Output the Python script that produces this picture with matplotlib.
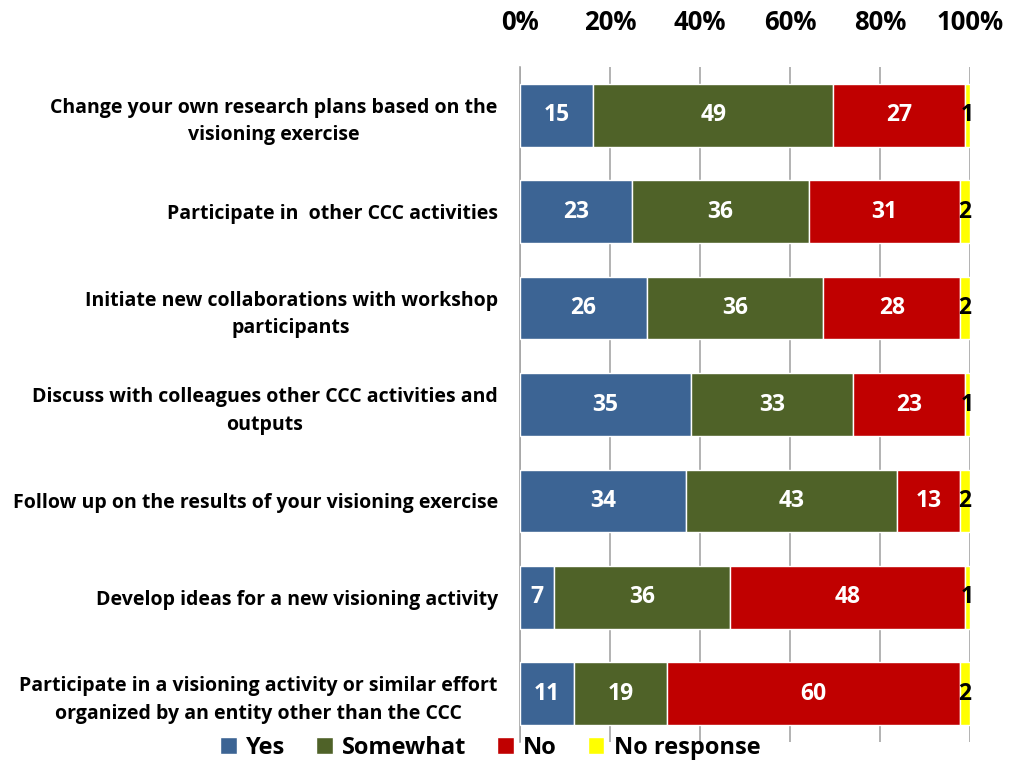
import numpy as np
import matplotlib
matplotlib.use("Agg")
import matplotlib.pyplot as plt
import matplotlib.ticker as mticker

BLUE   = "#3C6494"
GREEN  = "#4F6228"
RED    = "#C00000"
YELLOW = "#FFFF00"
GRID   = "#A6A6A6"

categories = [
    "Change your own research plans based on the\nvisioning exercise",
    "Participate in  other CCC activities",
    "Initiate new collaborations with workshop\nparticipants",
    "Discuss with colleagues other CCC activities and\noutputs",
    "Follow up on the results of your visioning exercise",
    "Develop ideas for a new visioning activity",
    "Participate in a visioning activity or similar effort\norganized by an entity other than the CCC",
]
yes         = [15, 23, 26, 35, 34, 7, 11]
somewhat    = [49, 36, 36, 33, 43, 36, 19]
no          = [27, 31, 28, 23, 13, 48, 60]
no_response = [1, 2, 2, 1, 2, 1, 2]

series = [
    ("Yes", yes, BLUE, "white"),
    ("Somewhat", somewhat, GREEN, "white"),
    ("No", no, RED, "white"),
    ("No response", no_response, YELLOW, "black"),
]

plt.rcParams["font.family"] = ["Open Sans", "DejaVu Sans"]
plt.rcParams["font.weight"] = "bold"

fig = plt.figure(figsize=(10.13, 7.63), dpi=100)
ax = fig.add_axes([0.5133, 0.0275, 0.4443, 0.8847])

totals = np.sum([s[1] for s in series], axis=0).astype(float)
y = np.arange(len(categories))
left = np.zeros(len(categories))

# 100% stacked bars, labels show the raw counts
for name, vals, color, tcolor in series:
    pct = np.array(vals) / totals
    ax.barh(y, pct, left=left, height=0.65, color=color, edgecolor="white",
            linewidth=1.0, label=name, zorder=3)
    for yi, (l, w, v) in enumerate(zip(left, pct, vals)):
        ax.text(l + w / 2, yi, str(v), ha="center", va="center",
                fontsize=16.5, fontweight="bold", color=tcolor, zorder=4)
    left += pct

ax.set_xlim(0, 1)
ax.set_ylim(len(categories) - 0.5, -0.5)
ax.set_yticks(y)
ax.set_yticklabels(categories, fontsize=14, fontweight="bold",
                   linespacing=1.5, multialignment="center")
ax.set_xticks(np.linspace(0, 1, 6))
ax.xaxis.set_major_formatter(mticker.PercentFormatter(1.0, decimals=0))
ax.xaxis.tick_top()
ax.tick_params(axis="x", length=0, labelsize=18.5, pad=22)
ax.tick_params(axis="y", length=0, pad=16)
for lab in ax.get_xticklabels():
    lab.set_fontweight("bold")

ax.grid(axis="x", color=GRID, linewidth=1.2, zorder=0)
for side in ["top", "right", "bottom"]:
    ax.spines[side].set_visible(False)
ax.spines["left"].set_color(GRID)
ax.spines["left"].set_linewidth(1.2)

fig.legend(loc="center", bbox_to_anchor=(0.484, 0.02), ncol=4, frameon=False,
           handlelength=0.7, handleheight=0.7, handletextpad=0.4,
           columnspacing=1.3, prop={"weight": "bold", "size": 17})

fig.savefig("out.png", dpi=100)
